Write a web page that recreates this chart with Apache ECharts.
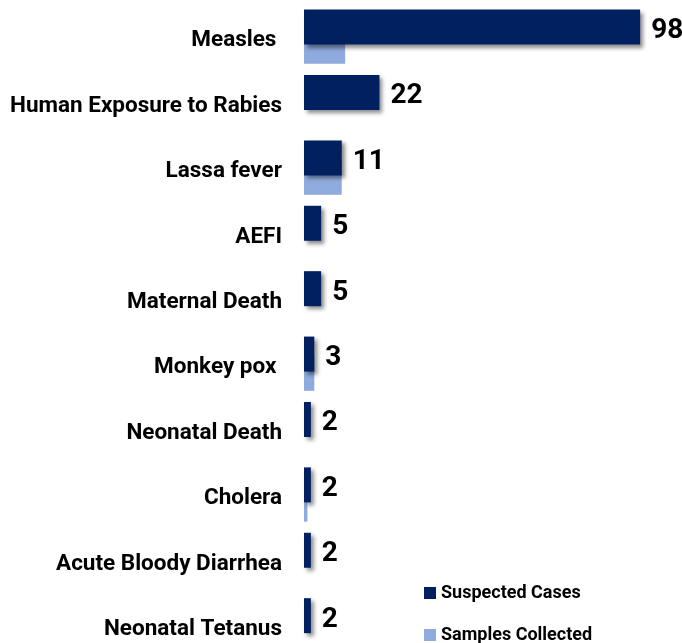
<!DOCTYPE html>
<html>
<head>
<meta charset="utf-8">
<script src="https://cdn.jsdelivr.net/npm/echarts@6/dist/echarts.min.js"></script>
<style>
    html, body { margin: 0; padding: 0; background: #fff; }
    #chart { width: 682px; height: 643px; }
</style>
</head>
<body>
<div id="chart"></div>
<script>
var categories = ["Measles ", "Human Exposure to Rabies", "Lassa fever", "AEFI", "Maternal Death",
    "Monkey pox ", "Neonatal Death", "Cholera", "Acute Bloody Diarrhea", "Neonatal Tetanus"];
var suspectedCases = [98, 22, 11, 5, 5, 3, 2, 2, 2, 2];
var samplesCollected = [12, 0, 11, 0, 0, 3, 0, 1, 0, 0];

var font = "Roboto, sans-serif";

var chart = echarts.init(document.getElementById('chart'));
var option = {
    animation: false,
    textStyle: { fontFamily: font },
    grid: { left: 304, top: 4, width: 343, height: 654, outerBoundsMode: 'none' },
    legend: {
        orient: 'vertical',
        left: 424,
        top: 584,
        height: 120,
        padding: 0,
        itemWidth: 12,
        itemHeight: 12,
        itemGap: 24,
        itemTextGap: 4,
        icon: 'rect',
        textStyle: { fontFamily: font, fontSize: 18, fontWeight: 'bold', color: '#000' },
        data: ['Suspected Cases', 'Samples Collected']
    },
    xAxis: {
        type: 'value',
        min: 0,
        max: 100,
        show: false
    },
    yAxis: {
        type: 'category',
        data: categories,
        inverse: true,
        axisLine: { show: false },
        axisTick: { show: false },
        axisLabel: {
            margin: 22,
            formatter: function (v) { return '{c|' + v + '}'; },
            rich: {
                c: {
                    padding: [8, 0, 0, 0],
                    fontFamily: font,
                    fontSize: 22.5,
                    fontWeight: 'bold',
                    color: '#000'
                }
            },
            fontFamily: font,
            fontSize: 22.5,
            fontWeight: 'bold',
            color: '#000'
        }
    },
    series: [
        {
            name: 'Suspected Cases',
            type: 'bar',
            z: 3,
            barWidth: 35,
            barGap: '-45%',
            data: suspectedCases,
            itemStyle: {
                color: '#002060',
                shadowColor: 'rgba(0,0,0,0.45)',
                shadowBlur: 4,
                shadowOffsetX: 3,
                shadowOffsetY: 3
            },
            label: {
                show: true,
                position: 'right',
                distance: 11,
                offset: [0, 4],
                fontFamily: font,
                fontSize: 28,
                fontWeight: 'bold',
                color: '#000'
            }
        },
        {
            name: 'Samples Collected',
            type: 'bar',
            z: 2,
            barWidth: 35,
            data: samplesCollected,
            itemStyle: { color: '#8FAADC' }
        }
    ]
};
chart.setOption(option);
</script>
</body>
</html>
